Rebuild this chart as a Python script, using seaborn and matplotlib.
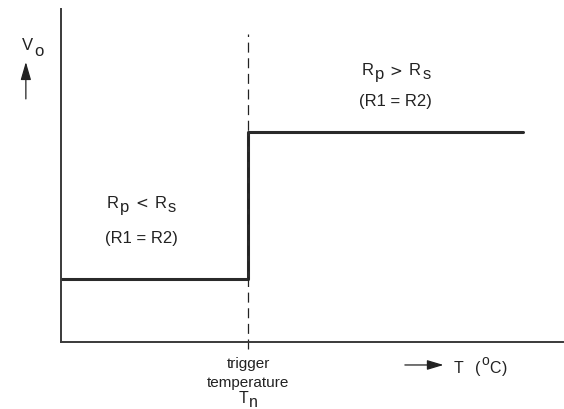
import matplotlib
matplotlib.use("Agg")
import matplotlib.pyplot as plt
from matplotlib.transforms import offset_copy
import seaborn as sns

# Output voltage versus temperature: a step at the trigger temperature
temperature = [0.0, 3.73, 3.73, 9.2]
v_out = [1.9, 1.9, 6.3, 6.3]
trigger_t = 3.73

condition_label = "(R1 = R2)"
trigger_lines = ["trigger", "temperature"]

sns.set_theme(style="white")
plt.rcParams["font.family"] = ["Liberation Sans", "DejaVu Sans"]

W, H = 564, 410
fig = plt.figure(figsize=(W / 100, H / 100), dpi=100)
left, right, top, bottom = 61, 563, 10, 343
ax = fig.add_axes([left / W, (H - bottom) / H, (right - left) / W, (bottom - top) / H])
ax.set_xlim(0, 10)
ax.set_ylim(0, 10)
renderer = fig.canvas.get_renderer()

ink = "#222222"
sns.lineplot(x=temperature, y=v_out, estimator=None, sort=False,
             color="#2a2a2a", linewidth=2.2, ax=ax)

# dashed marker at the trigger temperature, running slightly past the axis
ax.plot([trigger_t, trigger_t], [-0.21, 9.25], color=ink, linewidth=0.9,
        dashes=(8, 4.5), clip_on=False)

for side in ["top", "right"]:
    ax.spines[side].set_visible(False)
for side in ["left", "bottom"]:
    ax.spines[side].set_color("#3a3a3a")
    ax.spines[side].set_linewidth(1.4)
ax.set_xticks([])
ax.set_yticks([])
ax.set_xlabel("")
ax.set_ylabel("")


def rich_text(x, y, parts, ha="center"):
    """Lay out (text, size, dy_px, gap_px, family) pieces on one baseline."""
    items = []
    for s, size, dy, gap, fam in parts:
        t = ax.text(x, y, s, fontsize=size, va="baseline", ha="left",
                    color=ink, clip_on=False,
                    family=[fam, "DejaVu Sans"])
        w = t.get_window_extent(renderer).width
        items.append((t, w, dy, gap))
    total = sum(w + gap for _, w, _, gap in items)
    cursor = -total / 2 if ha == "center" else 0.0
    for t, w, dy, gap in items:
        cursor += gap
        t.set_transform(offset_copy(ax.transData, fig=fig, x=cursor, y=dy,
                                    units="dots"))
        cursor += w


LS = "Liberation Sans"
DV = "DejaVu Sans"

# R_p < R_s  (below the step)
rich_text(1.6, 4.05, [("R", 12, 0, 0, LS), ("p", 12, -3.5, 1.5, LS),
                      ("<", 11, 0, 5.5, DV), ("R", 12, 0, 6.5, LS),
                      ("s", 12, -3.5, 1.5, LS)])
ax.text(1.6, 3.0, condition_label, ha="center", va="baseline", fontsize=12,
        color=ink)

# R_p > R_s  (above the step)
rich_text(6.67, 8.04, [("R", 12, 0, 0, LS), ("p", 12, -3.5, 1.5, LS),
                       (">", 11, 0, 5.5, DV), ("R", 12, 0, 6.5, LS),
                       ("s", 12, -3.5, 1.5, LS)])
ax.text(6.67, 7.12, condition_label, ha="center", va="baseline", fontsize=12,
        color=ink)

# trigger temperature caption under the dashed line
ax.text(trigger_t, -0.75, trigger_lines[0], ha="center", va="baseline",
        fontsize=11, color=ink, clip_on=False)
ax.text(trigger_t, -1.32, trigger_lines[1], ha="center", va="baseline",
        fontsize=11, color=ink, clip_on=False)
rich_text(trigger_t, -1.80, [("T", 11.5, 0, 0, LS), ("n", 11.5, -4, 0.5, LS)])

# vertical axis label with upward arrow
rich_text(-0.56, 8.8, [("V", 12, 0, 0, LS), ("o", 12, -6, 1.0, LS)])
ax.annotate("", xy=(-0.70, 8.41), xytext=(-0.70, 7.30), annotation_clip=False,
            arrowprops=dict(arrowstyle="-|>,head_length=0.55,head_width=0.16",
                            color=ink, lw=0.9, mutation_scale=20,
                            shrinkA=0, shrinkB=0))

# horizontal axis label with rightward arrow
ax.annotate("", xy=(7.62, -0.69), xytext=(6.85, -0.69), annotation_clip=False,
            arrowprops=dict(arrowstyle="-|>,head_length=0.5,head_width=0.15",
                            color=ink, lw=0.9, mutation_scale=20,
                            shrinkA=0, shrinkB=0))
rich_text(7.82, -0.90, [("T", 11.5, 0, 0, LS), ("(", 11.5, 0, 12, LS),
                        ("o", 10, 8, 0.5, LS), ("C", 11.5, 0, 0.5, LS),
                        (")", 11.5, 0, 1, LS)], ha="left")

fig.savefig("out.png", dpi=100, facecolor="white")
